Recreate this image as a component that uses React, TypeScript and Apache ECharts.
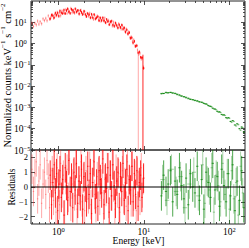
import { useEffect, useRef } from "react";
import * as echarts from "echarts";

// ---------- axis limits ----------
const X_MIN = 0.477;
const X_MAX = 152;
const Y_MIN = 1e-5;
const Y_MAX = 100;
const R_MIN = -2.5;
const R_MAX = 2.5;

// ---------- tick values ----------
const xMajor = [1, 10, 100];
const xMinor = [0.5, 0.6, 0.7, 0.8, 0.9, 2, 3, 4, 5, 6, 7, 8, 9, 20, 30, 40, 50, 60, 70, 80, 90];
const yMajorExp = [-5, -4, -3, -2, -1, 0, 1];
const yMinorMult = [2, 3, 4, 5, 6, 7, 8, 9];
const resTicks = [-2, -1, 0, 1, 2];

// ---------- soft X-ray spectrum (bright red) ----------
const redE = [0.80, 0.83, 0.86, 0.89, 0.92, 0.95, 0.98, 1.01, 1.04, 1.08,
  1.12, 1.16, 1.20, 1.24, 1.28, 1.32, 1.37, 1.42, 1.47, 1.52,
  1.57, 1.62, 1.68, 1.74, 1.80, 1.86, 1.92, 1.99, 2.06, 2.13,
  2.20, 2.28, 2.36, 2.44, 2.52, 2.61, 2.70, 2.79, 2.89, 2.99,
  3.09, 3.20, 3.31, 3.42, 3.54, 3.66, 3.79, 3.92, 4.05, 4.19,
  4.34, 4.49, 4.64, 4.80, 4.97, 5.14, 5.32, 5.50, 5.69, 5.89,
  6.09, 6.30, 6.52, 6.74, 6.97, 7.21, 7.46, 7.72, 7.98, 8.26,
  8.54, 8.83, 9.14, 9.45, 9.90];
const redF = [14.5, 22, 20.5, 16.5, 27.5, 22, 27.5, 19.5, 34.5, 28,
  26, 38, 26, 36, 43.5, 31, 26.5, 41, 37, 29.5,
  43, 31, 36.5, 25, 36, 29.5, 23.5, 33.5, 23.5, 19,
  26, 22.5, 16.5, 24, 16.5, 23.5, 14.5, 16.5, 18.5, 12,
  16, 12.3, 16.3, 11.9, 9.8, 13.8, 11, 7.8, 10.8, 11.5,
  7.6, 6.6, 9.3, 7.2, 5.5, 7.6, 5.8, 7.5, 4.8, 5.5,
  3.5, 4.4, 2.85, 3.3, 1.8, 1.87, 1.08, 1.28, 0.75, 0.8,
  0.37, 0.41, 0.23, 0.22, 0.07];
const redRes = [0.8, -1.2, 0.3, 1.5, -0.4, 0.9, -1.6, 0.2, 1.1, -0.7,
  0.5, -1.9, 1.3, 0.1, -0.9, 1.8, -0.3, 0.6, -1.4, 1.0,
  -0.2, 1.6, -1.1, 0.4, -0.6, 1.2, -1.5, 0.7, 0.0, -1.0,
  1.4, -0.5, 0.9, -1.8, 0.3, 1.7, -0.8, 0.2, -1.3, 1.1,
  0.5, -0.4, 1.9, -1.2, 0.6, -0.1, 1.3, -1.7, 0.8, -0.6,
  1.5, 0.1, -1.1, 0.4, 1.0, -1.4, 0.7, -0.3, 1.6, -0.9,
  0.2, 1.2, -1.6, 0.5, -0.2, 1.4, -1.0, 0.9, -0.5, 1.1,
  -1.3, 0.3, 0.8, -0.7, 0.6];
const redDropE = [9.73];
const redDropTop = [0.3];

// ---------- soft X-ray spectrum (light red) ----------
const pinkE = [0.49, 0.51, 0.53, 0.55, 0.57, 0.59, 0.61, 0.635, 0.66, 0.685,
  0.71, 0.735, 0.76, 0.785, 0.815, 0.845, 0.875, 0.905, 0.935, 0.965,
  0.995, 1.03, 1.06, 1.10, 1.14, 1.18, 1.22, 1.26, 1.30, 1.345,
  1.395, 1.445, 1.495, 1.545, 1.595, 1.65, 1.71, 1.77, 1.83, 1.89,
  1.955, 2.025, 2.095, 2.165, 2.24, 2.32, 2.40, 2.48, 2.565, 2.655,
  2.745, 2.84, 2.94, 3.04, 3.145, 3.255, 3.365, 3.48, 3.60, 3.725,
  3.855, 3.985, 4.12, 4.265, 4.415, 4.565, 4.72, 4.885, 5.055, 5.23,
  5.41, 5.595, 5.79, 5.99, 6.195, 6.41, 6.63, 6.855, 7.09, 7.335,
  7.59, 7.85, 8.12, 8.40, 8.69, 8.99, 9.30, 9.60, 9.85];
const pinkF = [9.2, 6.4, 9.1, 7.7, 11.5, 8.2, 10.8, 8.6, 14.6, 12.1,
  15.5, 11.9, 20.2, 14.5, 17.5, 23.1, 15.8, 23.1, 20.2, 29.8,
  21, 29.1, 20.5, 34.2, 30.6, 27, 40.3, 26.8, 39.1, 32.6,
  45.5, 29, 36.8, 27.1, 41, 31.8, 35.8, 25.4, 37.2, 25.1,
  27, 31.7, 19.6, 26.5, 19.8, 26.9, 16.8, 20.1, 14, 21,
  15.6, 20, 13.2, 16.5, 11.4, 15.9, 12.3, 15.9, 9.6, 11.4,
  12.4, 8.3, 10.1, 6.8, 10.2, 7.0, 8.5, 5.8, 8.6, 6.1,
  4.9, 7.0, 5.6, 3.9, 4.9, 3.0, 3.6, 1.9, 2.1, 1.3,
  1.5, 0.78, 0.83, 0.5, 0.32, 0.36, 0.19, 0.21, 0.08];
const pinkRes = [1.2, -0.3, 0.9, 1.7, -0.8, 0.4, 1.5, -1.1, 0.2, 1.0,
  -0.5, 1.8, 0.6, -1.4, 0.3, 1.1, -0.9, 0.7, -1.7, 1.3,
  0.0, -1.2, 1.6, -0.4, 0.8, -1.9, 0.5, 1.2, -0.7, 1.9,
  -1.3, 0.2, 0.9, -0.6, 1.5, -1.5, 0.4, -0.2, 1.7, -1.0,
  0.6, -1.6, 1.1, 0.1, -0.8, 1.4, -1.2, 0.3, 1.8, -0.5,
  -1.4, 0.7, 1.0, -0.9, 0.2, 1.6, -1.8, 0.5, -0.3, 1.3,
  -1.1, 0.8, -0.6, 1.5, 0.0, -1.5, 1.2, -0.4, 0.9, -1.7,
  0.6, 1.1, -0.8, 0.3, -1.3, 1.7, -0.2, 0.4, -1.0, 1.4,
  -0.6, 0.8, -1.6, 1.0, 0.1, -0.9, 1.3, -0.4, 0.5];
const pinkDropE = [8.58];
const pinkDropTop = [0.3];

// ---------- hard X-ray spectrum (green) ----------
const greenE = [16.0, 17.0, 18.1, 19.2, 20.4, 21.7, 23.1, 24.5, 26.0, 27.6,
  29.3, 31.1, 33.0, 35.0, 37.2, 39.5, 42.0, 44.6, 47.3, 50.2,
  53.3, 56.6, 60.1, 63.8, 67.8, 72.0, 76.4, 81.1, 86.1, 91.4,
  97.0, 103, 109, 116, 123, 131, 139, 147];
const greenF = [4.4e-3, 4.5e-3, 5.1e-3, 4.9e-3, 5.1e-3, 4.7e-3, 4.6e-3, 4.0e-3, 3.85e-3, 3.4e-3,
  3.2e-3, 2.85e-3, 2.7e-3, 2.4e-3, 2.32e-3, 2.1e-3, 2.05e-3, 1.82e-3, 1.76e-3, 1.55e-3,
  1.46e-3, 1.22e-3, 1.13e-3, 9.2e-4, 8.4e-4, 6.6e-4, 6.2e-4, 4.7e-4, 4.5e-4, 3.3e-4,
  3.3e-4, 2.2e-4, 2.4e-4, 1.5e-4, 1.7e-4, 1.0e-4, 1.2e-4, 7.0e-5];
const greenRes = [-0.6, 0.8, -0.3, 0.2, 1.1, -1.0, 0.4, -0.5, 1.3, 0.1,
  -0.8, 0.6, -1.2, 0.9, 0.0, -0.4, 1.4, -0.9, 0.5, -1.5,
  1.0, 0.3, -0.7, 1.6, -0.2, 0.7, -1.3, 1.2, 0.1, -1.0,
  0.9, -0.6, 1.5, -1.6, 0.4, -0.9, 1.1, -1.4];

const lgreenE = [16.5, 18.6, 21.0, 23.8, 26.8, 30.2, 34.0, 38.3, 43.2, 48.7,
  51.7, 54.9, 58.3, 61.9, 65.8, 69.9, 74.2, 78.8, 83.6, 88.7,
  94.2, 100, 106, 112.5, 119.5, 127, 135, 143];
const lgreenF = [4.6e-3, 4.8e-3, 5.0e-3, 4.4e-3, 3.55e-3, 3.1e-3, 2.5e-3, 2.25e-3, 1.9e-3, 1.7e-3,
  1.47e-3, 1.38e-3, 1.14e-3, 1.06e-3, 8.5e-4, 7.8e-4, 6.0e-4, 5.8e-4, 4.3e-4, 4.2e-4,
  3.0e-4, 3.1e-4, 2.0e-4, 2.2e-4, 1.35e-4, 1.55e-4, 8.5e-5, 1.1e-4];
const lgreenRes = [0.5, -0.9, 1.2, -0.3, 0.7, -1.4, 0.2, 1.0, -0.6, 1.5,
  -1.1, 0.4, -0.2, 1.3, -1.7, 0.8, 0.1, -1.0, 1.6, -0.5,
  0.9, -1.5, 1.1, -0.8, 0.3, -1.9, 1.4, -0.4];

// ---------- styling ----------
const SERIF = "'Liberation Serif', 'DejaVu Serif', serif";
const AX = "#262626";
const C_RED = "rgba(255,0,0,0.85)";
const C_PINK = "rgba(255,40,40,0.4)";
const C_GREEN = "rgba(0,128,0,0.7)";
const C_LGREEN = "rgba(0,128,0,0.35)";

function binEdges(E: number[]): number[][] {
  return E.map((e, i) => {
    const prev = i > 0 ? E[i - 1] : E.length > 1 ? (e * e) / E[i + 1] : e / 1.03;
    const next = i < E.length - 1 ? E[i + 1] : E.length > 1 ? (e * e) / E[i - 1] : e * 1.03;
    return [Math.sqrt(prev * e), Math.sqrt(e * next)];
  });
}
function specData(E: number[], F: number[], err: number) {
  const ed = binEdges(E);
  const n = Math.min(E.length, F.length);
  const out: number[][] = [];
  for (let i = 0; i < n; i++) out.push([E[i], F[i], ed[i][0], ed[i][1], F[i] * (1 - err), F[i] * (1 + err)]);
  return out;
}
function dropData(E: number[], top: number[]) {
  const ed = binEdges(E);
  return E.map((e, i) => [e, top[i] * 0.5, ed[i][0], ed[i][1], 1e-9, top[i]]);
}
function resData(E: number[], R: number[]) {
  const ed = binEdges(E);
  const n = Math.min(E.length, R.length);
  const out: number[][] = [];
  for (let i = 0; i < n; i++) out.push([E[i], R[i], ed[i][0], ed[i][1], R[i] - 1, R[i] + 1]);
  return out;
}

const makeRender = (color: string, noHoriz = false) => (params: any, api: any) => {
  const cs = params.coordSys;
  const top = cs.y, bot = cs.y + cs.height, left = cs.x, right = cs.x + cs.width;
  const cy = (v: number) => Math.max(top, Math.min(bot, v));
  const c = api.coord([api.value(0), api.value(1)]);
  const l = api.coord([api.value(2), api.value(1)]);
  const h = api.coord([api.value(3), api.value(1)]);
  const lo = api.coord([api.value(0), api.value(4)]);
  const hi = api.coord([api.value(0), api.value(5)]);
  const style = { stroke: color, lineWidth: 1, fill: null };
  const children: any[] = [];
  const y1 = cy(lo[1]);
  const y2 = cy(hi[1]);
  if (Math.abs(y1 - y2) > 0.01) children.push({ type: "line", shape: { x1: c[0], y1, x2: c[0], y2 }, style });
  if (!noHoriz && c[1] >= top && c[1] <= bot)
    children.push({ type: "line", shape: { x1: Math.max(left, l[0]), y1: c[1], x2: Math.min(right, h[0]), y2: c[1] }, style });
  return { type: "group", children };
};

const supFmt = (v: number) => {
  const k = Math.round(v);
  return `{b|10}{s|${k < 0 ? "\u2212" + -k : k}}`;
};
const richNum = {
  b: { fontFamily: SERIF, fontSize: 9.5, lineHeight: 11, verticalAlign: "bottom", color: "#000" },
  s: { fontFamily: SERIF, fontSize: 6.5, lineHeight: 7, verticalAlign: "top", color: "#000" },
};

function decoAxis(gridIndex: number, position: string, min: number, max: number, ticks: number[], len: number, label?: any) {
  return {
    type: "value",
    gridIndex,
    position,
    min,
    max,
    silent: true,
    axisLine: { show: false, onZero: false },
    splitLine: { show: false },
    axisTick: { show: true, inside: true, length: len, customValues: ticks, lineStyle: { color: AX, width: 0.8 } },
    axisLabel: label ? { ...label, customValues: ticks } : { show: false, customValues: ticks },
  };
}

export default function App() {
  const ref = useRef<HTMLDivElement>(null);
  useEffect(() => {
    if (!ref.current) return;
    const chart = echarts.init(ref.current, null, { renderer: "svg" });
    const LX0 = Math.log10(X_MIN), LX1 = Math.log10(X_MAX);
    const LY0 = Math.log10(Y_MIN), LY1 = Math.log10(Y_MAX);
    const xMaj = xMajor.map(Math.log10);
    const xMin = xMinor.map(Math.log10);
    const yMaj = yMajorExp.slice();
    const yMin: number[] = [];
    yMajorExp.forEach((e) => yMinorMult.forEach((m) => yMin.push(e + Math.log10(m))));

    const grids = [
      { left: 31, right: 4, top: 1, height: 149 },
      { left: 31, right: 4, top: 150, height: 74 },
    ].map((g) => ({ ...g, show: true, borderColor: AX, borderWidth: 1, backgroundColor: "transparent" }));

    const option: any = {
      animation: false,
      grid: grids,
      xAxis: [
        { type: "log", gridIndex: 0, min: X_MIN, max: X_MAX, show: false, axisLine: { onZero: false } },
        { type: "log", gridIndex: 1, min: X_MIN, max: X_MAX, show: false, axisLine: { onZero: false } },
        decoAxis(0, "bottom", LX0, LX1, xMaj, 4),
        decoAxis(0, "bottom", LX0, LX1, xMin, 2),
        decoAxis(0, "top", LX0, LX1, xMaj, 4),
        decoAxis(0, "top", LX0, LX1, xMin, 2),
        decoAxis(1, "bottom", LX0, LX1, xMaj, 4, { show: true, margin: 2, formatter: supFmt, rich: richNum }),
        decoAxis(1, "bottom", LX0, LX1, xMin, 2),
        decoAxis(1, "top", LX0, LX1, xMaj, 4),
        decoAxis(1, "top", LX0, LX1, xMin, 2),
      ],
      yAxis: [
        { type: "log", gridIndex: 0, min: Y_MIN, max: Y_MAX, show: false, axisLine: { onZero: false } },
        decoAxis(1, "left", R_MIN, R_MAX, resTicks, 4, {
          show: true,
          margin: 3,
          fontFamily: SERIF,
          fontSize: 8.5,
          color: "#000",
          formatter: (v: number) => (v < 0 ? "\u2212" + -v : String(v)),
        }),
        decoAxis(0, "left", LY0, LY1, yMaj, 4, { show: true, margin: 17, align: "left", formatter: supFmt, rich: richNum }),
        decoAxis(0, "left", LY0, LY1, yMin, 2),
        decoAxis(0, "right", LY0, LY1, yMaj, 4),
        decoAxis(0, "right", LY0, LY1, yMin, 2),
        decoAxis(1, "right", R_MIN, R_MAX, resTicks, 4),
      ],
      series: [
        { type: "custom", xAxisIndex: 0, yAxisIndex: 0, renderItem: makeRender(C_PINK), data: specData(pinkE, pinkF, 0.18), silent: true },
        { type: "custom", xAxisIndex: 0, yAxisIndex: 0, renderItem: makeRender(C_PINK, true), data: dropData(pinkDropE, pinkDropTop), silent: true },
        { type: "custom", xAxisIndex: 0, yAxisIndex: 0, renderItem: makeRender(C_RED), data: specData(redE, redF, 0.15), silent: true },
        { type: "custom", xAxisIndex: 0, yAxisIndex: 0, renderItem: makeRender(C_RED, true), data: dropData(redDropE, redDropTop), silent: true },
        { type: "custom", xAxisIndex: 0, yAxisIndex: 0, renderItem: makeRender(C_LGREEN), data: specData(lgreenE, lgreenF, 0.08), silent: true },
        { type: "custom", xAxisIndex: 0, yAxisIndex: 0, renderItem: makeRender(C_GREEN), data: specData(greenE, greenF, 0.06), silent: true },
        { type: "custom", xAxisIndex: 1, yAxisIndex: 1, renderItem: makeRender(C_PINK), data: resData(pinkE, pinkRes), silent: true },
        { type: "custom", xAxisIndex: 1, yAxisIndex: 1, renderItem: makeRender(C_RED), data: resData(redE, redRes), silent: true },
        { type: "custom", xAxisIndex: 1, yAxisIndex: 1, renderItem: makeRender(C_LGREEN), data: resData(lgreenE, lgreenRes), silent: true },
        { type: "custom", xAxisIndex: 1, yAxisIndex: 1, renderItem: makeRender(C_GREEN), data: resData(greenE, greenRes), silent: true },
        {
          type: "line",
          xAxisIndex: 1,
          yAxisIndex: 1,
          data: [[X_MIN, 0], [X_MAX, 0]],
          symbol: "none",
          silent: true,
          z: 5,
          lineStyle: { color: "#000", width: 1 },
        },
      ],
      graphic: [
        {
          type: "text",
          x: 6,
          y: 75.5,
          rotation: Math.PI / 2,
          silent: true,
          style: {
            text: "{a|Normalized counts keV}{s|\u22121}{a| s}{s|\u22121}{a| cm}{s|\u22122}",
            align: "center",
            verticalAlign: "middle",
            rich: {
              a: { fontFamily: SERIF, fontSize: 10.5, lineHeight: 13, verticalAlign: "bottom", fill: "#000" },
              s: { fontFamily: SERIF, fontSize: 7, lineHeight: 7, verticalAlign: "top", fill: "#000" },
            },
          },
        },
        {
          type: "text",
          x: 12,
          y: 187,
          rotation: Math.PI / 2,
          silent: true,
          style: { text: "Residuals", fontFamily: SERIF, fontSize: 9.5, fill: "#000", align: "center", verticalAlign: "middle" },
        },
        {
          type: "text",
          x: 138.5,
          y: 241,
          silent: true,
          style: { text: "Energy [keV]", fontFamily: SERIF, fontSize: 9.5, fill: "#000", align: "center", verticalAlign: "middle" },
        },
      ],
    };
    chart.setOption(option);
    return () => chart.dispose();
  }, []);
  return <div ref={ref} style={{ width: 249, height: 248, position: "absolute", left: 0, top: 0 }} />;
}
